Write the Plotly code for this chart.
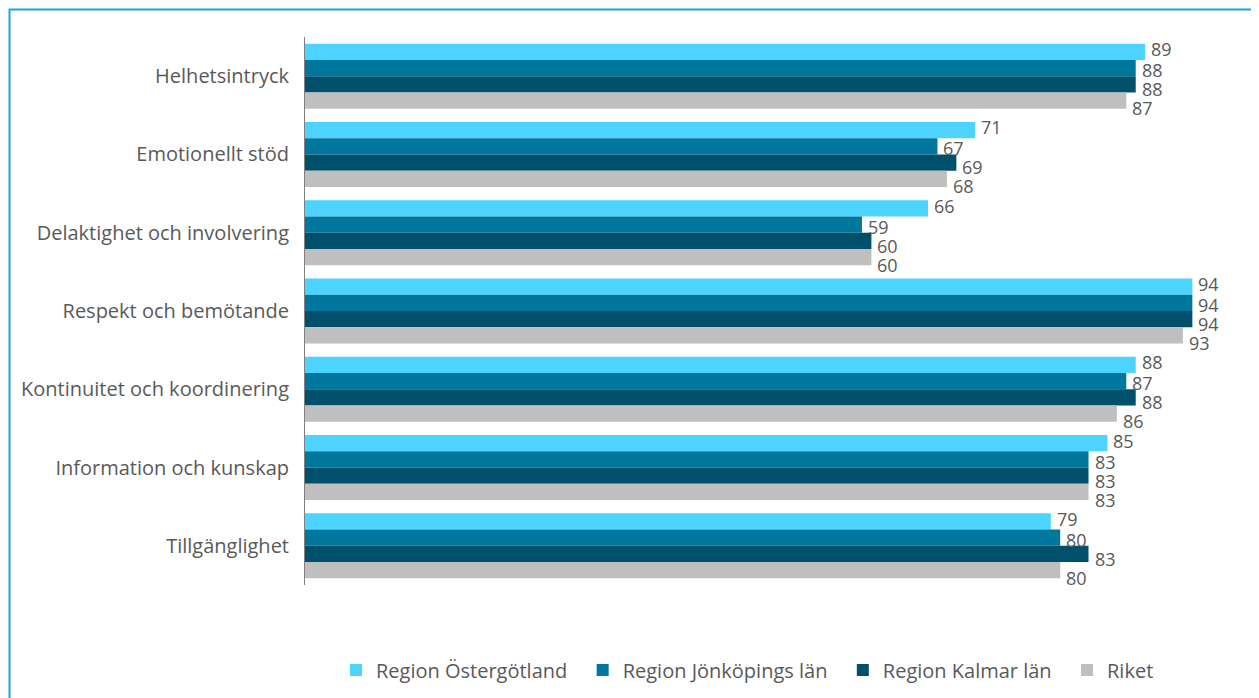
import plotly.graph_objects as go

categories = ["Helhetsintryck", "Emotionellt stöd", "Delaktighet och involvering",
              "Respekt och bemötande", "Kontinuitet och koordinering",
              "Information och kunskap", "Tillgänglighet"]
series_names = ["Region Östergötland", "Region Jönköpings län", "Region Kalmar län", "Riket"]
ostergotland = [89, 71, 66, 94, 88, 85, 79]
jonkoping = [88, 67, 59, 94, 87, 83, 80]
kalmar = [88, 69, 60, 94, 88, 83, 83]
riket = [87, 68, 60, 93, 86, 83, 80]
colors = ["#4dd3ff", "#00789e", "#004f6b", "#bfbfbf"]

# page has an 8px body margin, so the figure is drawn 8px smaller
W, H = 1251, 690
L, R, T, B = 297, 10, 29, 113
font_fam = "Open Sans, Noto Sans, sans-serif"
txt_col = "#595959"
label_shift = [27, 6, -13, -32]  # vertical pixel offsets of value labels per series

fig = go.Figure()
annotations = []
all_series = [ostergotland, jonkoping, kalmar, riket]
n = len(series_names)
for i, (name, vals, col) in enumerate(zip(series_names, all_series, colors)):
    # non-breaking spaces widen the gap between legend entries
    legend_name = name + ("\u00a0\u00a0" if i < n - 1 else "")
    fig.add_trace(go.Bar(
        y=categories, x=vals, name=legend_name, orientation="h",
        marker=dict(color=col, line=dict(width=0)),
        hovertemplate=name + ": %{x}<extra></extra>",
    ))
    for cat, v in zip(categories, vals):
        annotations.append(dict(
            x=v, y=cat, xref="x", yref="y", text=str(v), showarrow=False,
            xanchor="left", yanchor="middle", xshift=4, yshift=label_shift[i],
            font=dict(size=18, color=txt_col, family=font_fam),
        ))

pw = W - L - R
ph = H - T - B
x0 = (1.5 - L) / pw
y1 = (H - B - 1.5) / ph

fig.update_layout(
    width=W, height=H,
    margin=dict(l=L, r=R, t=T, b=B, autoexpand=False),
    barmode="group", bargap=0.17, bargroupgap=0,
    plot_bgcolor="white", paper_bgcolor="white",
    font=dict(family=font_fam, color=txt_col, size=20),
    xaxis=dict(range=[0, 100], showgrid=False, showticklabels=False, zeroline=False,
               showline=False, ticks=""),
    yaxis=dict(range=[len(categories) - 0.5, -0.5], showgrid=False, showline=True,
               linecolor="#808080", linewidth=1, ticks="", ticklabelstandoff=11,
               tickfont=dict(size=20, color=txt_col, family=font_fam)),
    legend=dict(orientation="h", x=(328 - L) / pw, xanchor="left",
                y=-(662 - (H - B)) / ph, yanchor="middle",
                font=dict(size=20, color=txt_col, family=font_fam),
                traceorder="normal", itemwidth=30),
    annotations=annotations,
    shapes=[dict(type="rect", xref="paper", yref="paper", x0=x0, x1=1.2, y0=-0.5, y1=y1,
                 line=dict(color="#1ba3db", width=2), fillcolor="rgba(0,0,0,0)", layer="below")],
)

fig.write_html("out.html")
